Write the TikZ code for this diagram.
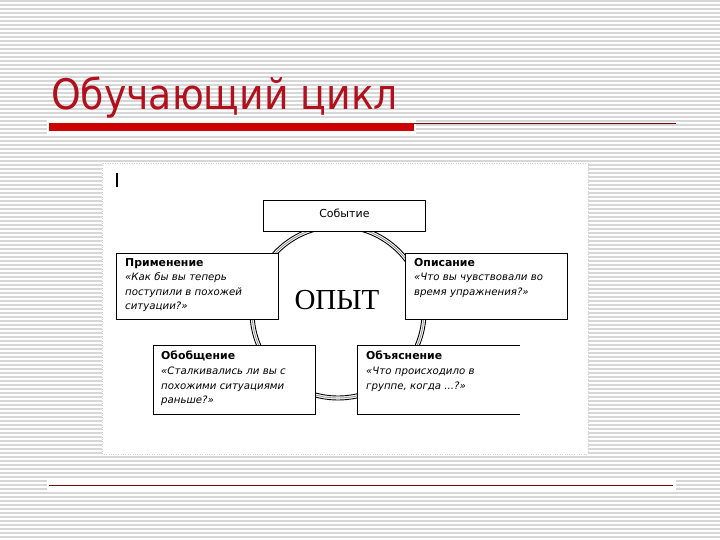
\documentclass[tikz,border=0pt]{standalone}
\usepackage{fontspec}
\setmainfont{DejaVu Sans}
\newfontfamily\titlefont[FakeStretch=0.9]{DejaVu Sans}
\newfontfamily\opytfont{Liberation Serif}
\usetikzlibrary{calc,positioning}
\definecolor{titlered}{RGB}{178,16,28}
\definecolor{barred}{RGB}{204,0,0}
\definecolor{linered}{RGB}{110,10,10}
\definecolor{stripe}{RGB}{215,215,215}
\newcommand{\boxhead}[1]{{\fontsize{10.9}{14.6}\selectfont\bfseries #1}}
\tikzset{
  box/.style={draw=black, line width=0.8pt, fill=white, anchor=north west, inner sep=0pt},
  boxtext/.style={anchor=north west, inner sep=0pt, align=left, font=\fontsize{10.2}{14.6}\selectfont},
  ringline/.style={line width=0.9pt}
}

\begin{document}
\begin{tikzpicture}[x=1pt,y=-1pt]
\useasboundingbox (0,0) rectangle (720,540);
%sfondo a righe
\fill[white] (0,0) rectangle (720,540);
\foreach \y in {1,5,...,539}
  \draw[stripe, line width=1.6pt] (0,\y) -- (720,\y);

%titolo
\node[anchor=base west, inner sep=0pt, text=titlered, font=\titlefont\fontsize{42}{42}\selectfont] (titolo) at (51,110) {Обучающий цикл};
\fill[white] (47,119) rectangle (416,136);
\fill[barred] (49,123) rectangle (414,131);
\draw[linered, line width=0.8pt] (414,123.5) -- (676,123.5);
\fill[white] (47,480) rectangle (676,491);
\draw[linered, line width=1.4pt] (49,485.5) -- (673,485.5);

%riquadro immagine
\draw[gray!35, dotted, fill=white] (102,163) rectangle (588,454);
\draw[line width=1.6pt] (117,173) -- (117,187);

%anello
\coordinate (centro) at (338,312);
\draw[ringline] (centro) circle[radius=88];
\draw[ringline, gray!80] (centro) circle[radius=86];
\draw[ringline] (centro) circle[radius=84];
\node[font=\opytfont\fontsize{29}{29}\selectfont, inner sep=0pt] (opyt) at (337,300) {ОПЫТ};

%riquadri
\node[box, minimum width=162pt, minimum height=31pt] (sobytie) at (263,200) {};
\node[inner sep=0pt, font=\fontsize{11}{12}\selectfont] at ($(sobytie.north)+(0,13)$) {Событие};

\node[box, minimum width=162pt, minimum height=66pt] (primen) at (116,253) {};
\node[boxtext] at ($(primen.north west)+(9,5)$) {\boxhead{Применение}\\\textit{«Как бы вы теперь}\\\textit{поступили в похожей}\\\textit{ситуации?»}};

\node[box, minimum width=162pt, minimum height=66pt] (opis) at (405,253) {};
\node[boxtext] at ($(opis.north west)+(9,5)$) {\boxhead{Описание}\\\textit{«Что вы чувствовали во}\\\textit{время упражнения?»}};

\node[box, minimum width=162pt, minimum height=69pt] (obob) at (153,345) {};
\node[boxtext] at ($(obob.north west)+(8,6)$) {\boxhead{Обобщение}\\\textit{«Сталкивались ли вы с}\\\textit{похожими ситуациями}\\\textit{раньше?»}};

\node[box, draw=none, minimum width=162pt, minimum height=69pt] (obyasn) at (357,345) {};
\draw[line width=0.8pt] (obyasn.north east) -- (obyasn.north west) -- (obyasn.south west) -- (obyasn.south east);
\node[boxtext] at ($(obyasn.north west)+(9,6)$) {\boxhead{Объяснение}\\\textit{«Что происходило в}\\\textit{группе, когда ...?»}};
\end{tikzpicture}
\end{document}
